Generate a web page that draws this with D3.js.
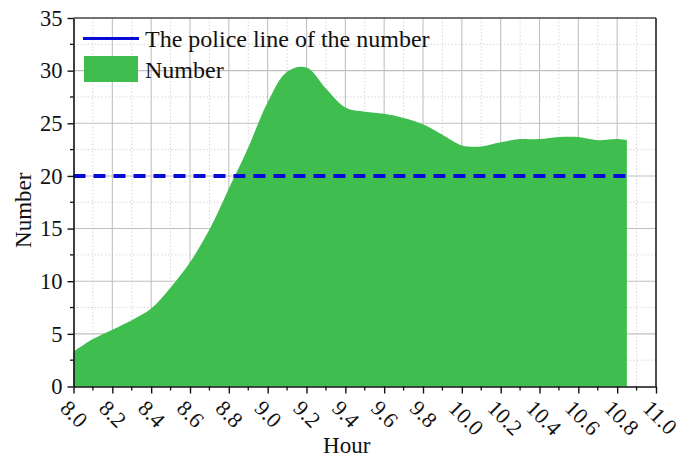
<!DOCTYPE html>
<html>
<head>
<meta charset="utf-8">
<script src="https://cdn.jsdelivr.net/npm/d3@7"></script>
<style>
  html, body { margin: 0; padding: 0; background: #fff; }
  svg { display: block; }
  svg text { font-family: "Liberation Serif", "Times New Roman", serif; }
</style>
</head>
<body>
<svg id="chart" width="679" height="457"></svg>
<script>
// Hourly readings (decimal hour) and the counted number
const hours = [8.0, 8.1, 8.2, 8.3, 8.4, 8.5, 8.6, 8.7, 8.8, 8.9, 9.0, 9.1, 9.2, 9.3, 9.4,
               9.5, 9.6, 9.7, 9.8, 9.9, 10.0, 10.1, 10.2, 10.3, 10.4, 10.5, 10.6, 10.7, 10.8, 10.85];
const numbers = [3.3, 4.5, 5.4, 6.3, 7.4, 9.4, 11.8, 14.9, 18.8, 22.7, 27.0, 29.9, 30.3, 28.3, 26.5,
                 26.1, 25.9, 25.5, 24.9, 23.9, 22.9, 22.8, 23.2, 23.5, 23.5, 23.7, 23.7, 23.4, 23.5, 23.4];
const policeLine = 20;

const xTicks = [8.0, 8.2, 8.4, 8.6, 8.8, 9.0, 9.2, 9.4, 9.6, 9.8, 10.0, 10.2, 10.4, 10.6, 10.8, 11.0];
const xMinorTicks = [8.1, 8.3, 8.5, 8.7, 8.9, 9.1, 9.3, 9.5, 9.7, 9.9, 10.1, 10.3, 10.5, 10.7, 10.9];
const yTicks = [0, 5, 10, 15, 20, 25, 30, 35];
const yMinorTicks = [2.5, 7.5, 12.5, 17.5, 22.5, 27.5, 32.5];

const legendLabels = ["The police line of the number", "Number"];
const xTitle = "Hour";
const yTitle = "Number";

const green = "#3fbe4f";
const blue = "#0a0ad6";
const ink = "#111";

const svg = d3.select("#chart");
const m = { left: 73.5, right: 656, top: 18, bottom: 386.5 };

const x = d3.scaleLinear().domain([8, 11]).range([m.left, m.right]);
const y = d3.scaleLinear().domain([0, 35]).range([m.bottom, m.top]);

// grid: minor dotted, major solid
const grid = svg.append("g");
grid.append("g").selectAll("line").data(xMinorTicks).join("line")
  .attr("x1", d => x(d)).attr("x2", d => x(d)).attr("y1", m.top).attr("y2", m.bottom)
  .attr("stroke", "#d6d6d6").attr("stroke-width", 1).attr("stroke-dasharray", "1.5,2");
grid.append("g").selectAll("line").data(yMinorTicks).join("line")
  .attr("x1", m.left).attr("x2", m.right).attr("y1", d => y(d)).attr("y2", d => y(d))
  .attr("stroke", "#d6d6d6").attr("stroke-width", 1).attr("stroke-dasharray", "1.5,2");
grid.append("g").selectAll("line").data(xTicks.filter(d => d > 8 && d < 11)).join("line")
  .attr("x1", d => x(d)).attr("x2", d => x(d)).attr("y1", m.top).attr("y2", m.bottom)
  .attr("stroke", "#c0c0c0").attr("stroke-width", 1.1);
grid.append("g").selectAll("line").data(yTicks.filter(d => d > 0 && d < 35)).join("line")
  .attr("x1", m.left).attr("x2", m.right).attr("y1", d => y(d)).attr("y2", d => y(d))
  .attr("stroke", "#c0c0c0").attr("stroke-width", 1.1);

// filled area of the number
const pts = hours.map((h, i) => [h, numbers[i]]);
const area = d3.area()
  .x(d => x(d[0])).y0(y(0)).y1(d => y(d[1]))
  .curve(d3.curveCatmullRom.alpha(0.5));
svg.append("path").datum(pts).attr("d", area).attr("fill", green);

// police line
svg.append("line")
  .attr("x1", x(8)).attr("x2", x(hours[hours.length - 1]))
  .attr("y1", y(policeLine)).attr("y2", y(policeLine))
  .attr("stroke", blue).attr("stroke-width", 4).attr("stroke-dasharray", "12,8");

// frame
svg.append("line").attr("x1", m.left).attr("x2", m.right).attr("y1", m.top).attr("y2", m.top)
  .attr("stroke", "#444").attr("stroke-width", 1.4);
svg.append("line").attr("x1", m.right).attr("x2", m.right).attr("y1", m.top).attr("y2", m.bottom)
  .attr("stroke", "#222").attr("stroke-width", 1.6);

// x axis
const xAxis = svg.append("g").attr("transform", `translate(0,${m.bottom})`)
  .call(d3.axisBottom(x).tickValues(xTicks).tickSize(7).tickSizeOuter(0).tickFormat(d3.format(".1f")));
xAxis.attr("font-family", null);
xAxis.select(".domain").attr("stroke", ink).attr("stroke-width", 1.6);
xAxis.selectAll(".tick line").attr("stroke", ink).attr("stroke-width", 1.4);
xAxis.selectAll(".tick text")
  .attr("font-size", 22).attr("fill", ink)
  .attr("text-anchor", "start")
  .attr("x", 0).attr("y", 0).attr("dy", null)
  .attr("transform", "translate(-15,23) rotate(45)");
svg.append("g").selectAll("line").data(xMinorTicks).join("line")
  .attr("x1", d => x(d)).attr("x2", d => x(d)).attr("y1", m.bottom).attr("y2", m.bottom + 4)
  .attr("stroke", ink).attr("stroke-width", 1.3);

// y axis
const yAxis = svg.append("g").attr("transform", `translate(${m.left},0)`)
  .call(d3.axisLeft(y).tickValues(yTicks).tickSize(6).tickSizeOuter(0).tickPadding(5));
yAxis.attr("font-family", null);
yAxis.select(".domain").attr("stroke", ink).attr("stroke-width", 1.6);
yAxis.selectAll(".tick line").attr("stroke", ink).attr("stroke-width", 1.4);
yAxis.selectAll(".tick text").attr("font-size", 22.5).attr("fill", ink);
svg.append("g").selectAll("line").data(yMinorTicks).join("line")
  .attr("x1", m.left - 3.5).attr("x2", m.left).attr("y1", d => y(d)).attr("y2", d => y(d))
  .attr("stroke", ink).attr("stroke-width", 1.3);

// axis titles
svg.append("text").attr("x", (m.left + m.right) / 2 - 18).attr("y", 453)
  .attr("text-anchor", "middle").attr("font-size", 23).attr("fill", ink).text(xTitle);
svg.append("text").attr("transform", `translate(31,${(m.top + m.bottom) / 2 + 8}) rotate(-90)`)
  .attr("text-anchor", "middle").attr("font-size", 23).attr("fill", ink).text(yTitle);

// legend
const lg = svg.append("g");
lg.append("line").attr("x1", 83).attr("x2", 139).attr("y1", 38.5).attr("y2", 38.5)
  .attr("stroke", blue).attr("stroke-width", 3);
lg.append("rect").attr("x", 84).attr("y", 56).attr("width", 54).attr("height", 26).attr("fill", green);
lg.append("text").attr("x", 145).attr("y", 47).attr("font-size", 24).attr("fill", ink).text(legendLabels[0]);
lg.append("text").attr("x", 145).attr("y", 78).attr("font-size", 24).attr("fill", ink).text(legendLabels[1]);
</script>
</body>
</html>
